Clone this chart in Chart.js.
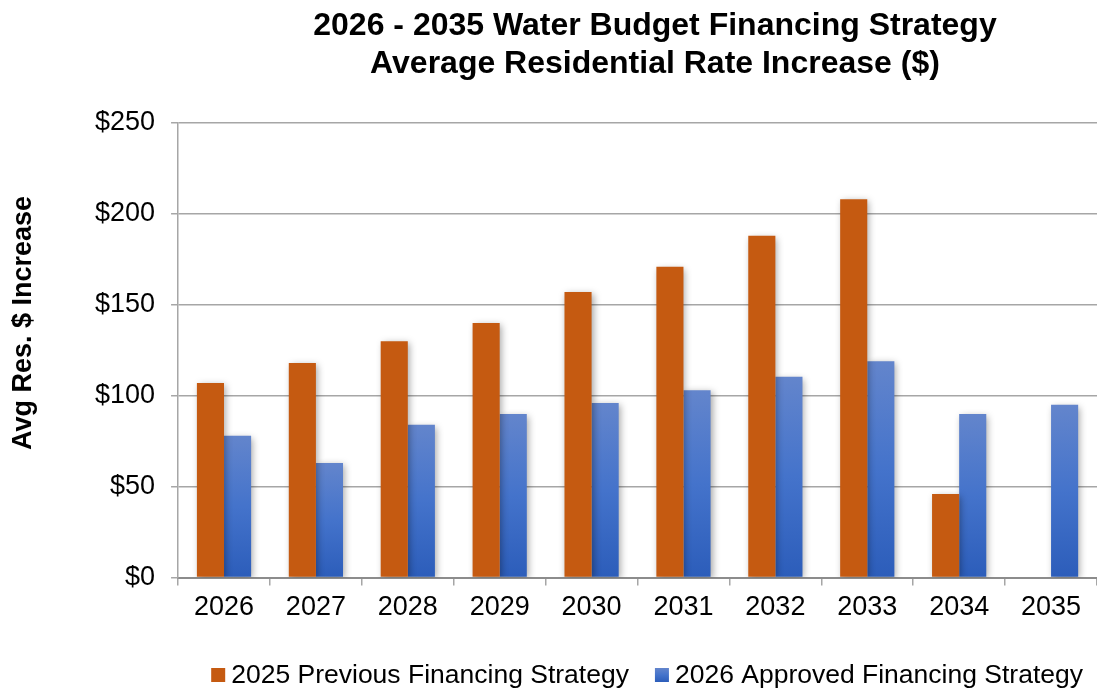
<!DOCTYPE html>
<html lang="en">
  <head>
    <meta charset="UTF-8" />
    <title>Water Budget Financing Strategy</title>
    <style>
      html, body { margin: 0; padding: 0; background: #fff; }
      .container--barChart { width: 1097px; height: 693px; }
    </style>
  </head>
  <body>
    <main>
      <div class="container--barChart">
        <canvas id="myChart"></canvas>
      </div>
    </main>
    <script src="https://cdn.jsdelivr.net/npm/chart.js@4"></script>
    <script>
      const years = ['2026', '2027', '2028', '2029', '2030', '2031', '2032', '2033', '2034', '2035'];
      const previousStrategy = [107, 118, 130, 140, 157, 171, 188, 208, 46, null];
      const approvedStrategy = [78, 63, 84, 90, 96, 103, 110.5, 119, 90, 95];
      const titleLines = ['2026 - 2035 Water Budget Financing Strategy', 'Average Residential Rate Increase ($)'];
      const yAxisTitle = 'Avg Res. $ Increase';

      const FONT = "Arial, 'Liberation Sans', Helvetica, sans-serif";
      const GRID = '#a6a6a6';
      const ORANGE = '#c55a11';

      const blueGradient = (c, top, bottom) => {
        const g = c.createLinearGradient(0, top, 0, bottom);
        g.addColorStop(0, '#6385cc');
        g.addColorStop(0.5, '#4473cb');
        g.addColorStop(1, '#2c5dba');
        return g;
      };

      // blue bars fade from a lighter top to a deeper bottom
      const blueFill = (ctx) => {
        const chart = ctx.chart;
        if (!chart.chartArea || ctx.type !== 'data') return '#4472c4';
        const y = chart.scales.y;
        return blueGradient(chart.ctx, y.getPixelForValue(ctx.raw), y.getPixelForValue(0));
      };

      const barShadow = {
        id: 'barShadow',
        beforeDatasetsDraw(chart) {
          const c = chart.ctx;
          c.save();
          c.shadowColor = 'rgba(0,0,0,0.35)';
          c.shadowBlur = 7;
          c.shadowOffsetX = 2;
          c.shadowOffsetY = 2;
        },
        afterDatasetsDraw(chart) {
          chart.ctx.restore();
        },
      };

      // title, rotated y title and legend drawn by hand
      const decorations = {
        id: 'decorations',
        afterDraw(chart) {
          const c = chart.ctx;
          const area = chart.chartArea;
          c.save();
          c.fillStyle = '#000';
          c.textBaseline = 'alphabetic';

          c.font = 'bold 32px ' + FONT;
          c.textAlign = 'center';
          const cx = area.left + (area.right - area.left) * 0.519;
          titleLines.forEach((line, i) => c.fillText(line, cx, 35 + i * 38));

          c.save();
          c.translate(31, area.top + (area.bottom - area.top) * 0.44);
          c.rotate(-Math.PI / 2);
          c.font = 'bold 27px ' + FONT;
          c.textAlign = 'center';
          c.fillText(yAxisTitle, 0, 0);
          c.restore();

          c.font = '26.5px ' + FONT;
          c.textAlign = 'left';
          c.textBaseline = 'middle';
          const box = 14, gap = 6, spacing = 26;
          const items = chart.data.datasets.map((ds) => ({ label: ds.label, w: c.measureText(ds.label).width }));
          const total = items.reduce((s, it) => s + box + gap + it.w, 0) + spacing * (items.length - 1);
          let x = chart.width - 14 - total;
          const ly = 675;
          items.forEach((it, i) => {
            c.fillStyle = i === 0 ? ORANGE : blueGradient(c, ly - 7, ly + 7);
            c.fillRect(x, ly - 7, box, box);
            c.fillStyle = '#000';
            c.fillText(it.label, x + box + gap, ly + 1);
            x += box + gap + it.w + spacing;
          });
          c.restore();
        },
      };

      const data = {
        labels: years,
        datasets: [
          {
            label: '2025 Previous Financing Strategy',
            backgroundColor: ORANGE,
            data: previousStrategy,
          },
          {
            label: '2026 Approved Financing Strategy',
            backgroundColor: blueFill,
            data: approvedStrategy,
          },
        ],
      };

      const config = {
        type: 'bar',
        data: data,
        plugins: [barShadow, decorations],
        options: {
          animation: { duration: 0 },
          responsive: true,
          maintainAspectRatio: false,
          datasets: {
            bar: { categoryPercentage: 0.59, barPercentage: 1 },
          },
          layout: { padding: { top: 123, right: 0, left: 79, bottom: 63 } },
          scales: {
            x: {
              grid: {
                offset: true,
                drawOnChartArea: false,
                drawTicks: true,
                tickLength: 8,
                color: GRID,
                lineWidth: 1.5,
              },
              border: { color: '#8c8c8c', width: 2 },
              ticks: { color: '#000', font: { family: FONT, size: 27 }, padding: 6 },
            },
            y: {
              min: 0,
              max: 250,
              ticks: {
                stepSize: 50,
                color: '#000',
                padding: 16,
                font: { family: FONT, size: 27 },
                callback: (v) => '$' + v,
              },
              grid: { color: GRID, lineWidth: 1.5, tickLength: 7 },
              border: { color: GRID, width: 1.5 },
            },
          },
          plugins: {
            legend: { display: false },
            tooltip: { enabled: false },
          },
        },
      };

      const myChart = new Chart(document.getElementById('myChart'), config);
    </script>
  </body>
</html>
